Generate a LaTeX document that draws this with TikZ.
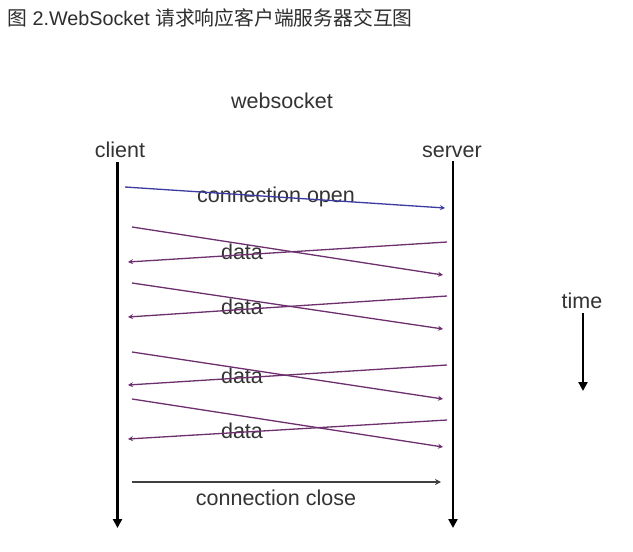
\documentclass[tikz,border=0pt]{standalone}
\usepackage{fontspec}
\setmainfont{Liberation Sans}
\newfontfamily\cjk{Noto Sans CJK SC}
\usetikzlibrary{arrows.meta}
\definecolor{txt}{HTML}{333333}
\definecolor{ttl}{HTML}{2E2E2E}
\definecolor{msg}{HTML}{6E2F6E}
\definecolor{opn}{HTML}{3B3BA0}
\begin{document}
\begin{tikzpicture}[x=1pt,y=-1pt,
  lbl/.style={text=txt,font=\fontsize{21.5}{24}\selectfont,inner sep=0pt},
  life/.style={line width=2.4pt,black,-{Triangle[width=9pt,length=9pt]}},
  msgline/.style={line width=1.3pt,msg,-{Stealth[width=5pt,length=5pt]}},
  openline/.style={line width=1.3pt,opn,-{Stealth[width=5pt,length=5pt]}},
  closeline/.style={line width=1.3pt,black!75,-{Stealth[width=6pt,length=6pt]}}]
\useasboundingbox[fill=white] (0,0) rectangle (633,552);
% title
\node[anchor=west,inner sep=0pt,text=ttl,font=\fontsize{19.8}{22}\selectfont] (title) at (7,18)
  {{\cjk 图} 2.WebSocket {\cjk 请求响应客户端服务器交互图}};
\node[lbl] (ws) at (282,101) {websocket};
\node[lbl] (client) at (120,150) {client};
\node[lbl] (server) at (452,152) {server};
% lifelines
\coordinate (cT) at (117.5,162);
\coordinate (cB) at (117.5,528);
\coordinate (sT) at (453,161);
\coordinate (sB) at (453,528);
\draw[life] (cT) -- (cB);
\draw[life] (sT) -- (sB);
% connection open
\coordinate (o1) at (125,187);
\coordinate (o2) at (445,208);
\node[lbl] (lopen) at (276,197) {connection open};
\draw[openline] (o1) -- (o2);
% data pairs
\foreach \i/\a/\b/\c/\d/\ly in {1/227/275/242/262/252, 2/283/329/296/317/307, 3/352/399/365/385/376, 4/399/447/420/439/431}{
  \coordinate (dA\i) at (132,\a);
  \coordinate (dB\i) at (443,\b);
  \coordinate (rA\i) at (447,\c);
  \coordinate (rB\i) at (128,\d);
  \node[lbl] (ld\i) at (242,\ly) {data};
  \draw[msgline] (dA\i) -- (dB\i);
  \draw[msgline] (rA\i) -- (rB\i);
}
% connection close
\coordinate (x1) at (132,482);
\coordinate (x2) at (441,482);
\draw[closeline] (x1) -- (x2);
\node[lbl] (lclose) at (276,498) {connection close};
% time
\node[lbl] (time) at (582,301) {time};
\coordinate (t1) at (583,313);
\coordinate (t2) at (583,391);
\draw[life,line width=2.2pt] (t1) -- (t2);
\end{tikzpicture}
\end{document}
